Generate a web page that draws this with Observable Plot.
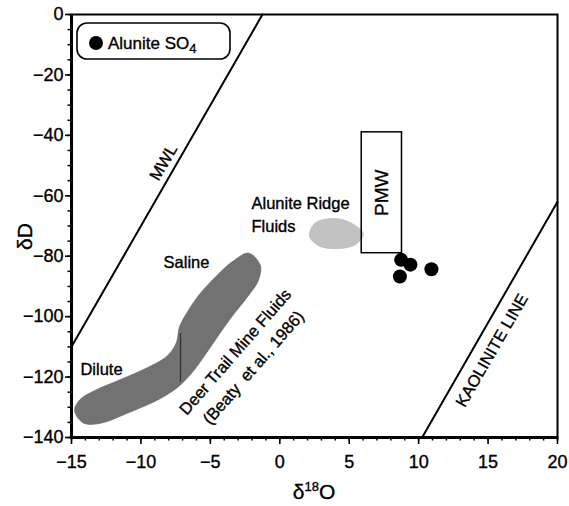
<!DOCTYPE html>
<html><head><meta charset="utf-8">
<script src="https://cdn.jsdelivr.net/npm/d3@7"></script>
<script src="https://cdn.jsdelivr.net/npm/@observablehq/plot@0.6"></script>
<style>body{margin:0;background:#fff} svg text{stroke:black;stroke-width:0.35px}</style>
</head><body><div id="chart"></div>
<script>
const xMajorTicks = [-15, -10, -5, 0, 5, 10, 15, 20];
const yMajorTicks = [0, -20, -40, -60, -80, -100, -120, -140];
const xMinorTicks = d3.range(-15, 20.5, 1);
const yMinorTicks = d3.range(-140, 0.5, 5);

// Alunite SO4 samples
const aluniteX = [8.74, 9.41, 8.65, 10.92];
const aluniteY = [-81.2, -82.8, -86.7, -84.3];
const alunite = aluniteX.map((x, i) => ({x, y: aluniteY[i]}));

// Reference lines
const mwl = [{x: -15, y: -110}, {x: -1.25, y: 0}];
const kaolinite = [{x: 10.25, y: -140}, {x: 20, y: -62}];

// Primary magmatic water box
const pmw = [{x1: 5.9, x2: 8.8, y1: -79, y2: -39}];

// Alunite Ridge fluids outline
const ridge = [
  {x: 6.02, y: -72.5}, {x: 5.09, y: -68.9}, {x: 4.0, y: -67.5}, {x: 2.57, y: -68.9},
  {x: 2.13, y: -73.2}, {x: 2.78, y: -76.5}, {x: 4.08, y: -77.5}, {x: 5.45, y: -76.2}
];

// Deer Trail Mine fluids outline
const deerTrail = [
  {x: -2.23, y: -79.0}, {x: -1.40, y: -83.1}, {x: -1.55, y: -88.1}, {x: -2.30, y: -93.3},
  {x: -3.25, y: -98.8}, {x: -4.22, y: -104.9}, {x: -5.18, y: -111.4}, {x: -6.15, y: -117.6},
  {x: -7.15, y: -122.6}, {x: -8.59, y: -127.1}, {x: -10.99, y: -132.0}, {x: -12.91, y: -135.3},
  {x: -14.15, y: -135.2}, {x: -14.78, y: -131.1}, {x: -14.40, y: -127.5}, {x: -13.39, y: -124.6},
  {x: -11.47, y: -120.8}, {x: -9.55, y: -116.9}, {x: -8.11, y: -113.0}, {x: -7.45, y: -108.6},
  {x: -7.22, y: -103.3}, {x: -6.62, y: -98.2}, {x: -5.78, y: -92.6}, {x: -4.58, y: -86.6},
  {x: -3.36, y: -81.6}
];
const divider = [{x: -7.15, y1: -105.6, y2: -121.7}];

// Annotations
const centeredLabels = [
  {x: -8.37, y: -49.0, text: "MWL", rotate: -60},
  {x: 15.28, y: -111.2, text: "KAOLINITE LINE", rotate: -60},
  {x: -6.72, y: -82.3, text: "Saline", rotate: 0},
  {x: -12.84, y: -117.5, text: "Dilute", rotate: 0},
  {x: -3.19, y: -111.7, text: "Deer Trail Mine Fluids", rotate: -49},
  {x: -1.89, y: -116.9, text: "(Beaty  et al., 1986)", rotate: -49}
];
const leftLabels = [
  {x: -2.04, y: -62.6, text: "Alunite Ridge"},
  {x: -2.04, y: -70.2, text: "Fluids"}
];
const legendLabel = "Alunite SO";
const legendSub = "4";

const FONT = "Liberation Sans, Arial, Helvetica, sans-serif";

function legendMark(index, scales, values, dim) {
  const g = d3.create("svg:g").attr("font-family", FONT).attr("text-anchor", "start");
  const x0 = dim.marginLeft + 6, y0 = dim.marginTop + 9;
  g.append("rect").attr("x", x0).attr("y", y0).attr("width", 153).attr("height", 36)
    .attr("rx", 10).attr("fill", "white").attr("stroke", "black").attr("stroke-width", 1.6);
  g.append("circle").attr("cx", x0 + 19).attr("cy", y0 + 20).attr("r", 7).attr("fill", "black");
  const t = g.append("text").attr("x", x0 + 31).attr("y", y0 + 26).attr("font-size", 17)
    .attr("text-anchor", "start").attr("fill", "black");
  t.append("tspan").text(legendLabel);
  t.append("tspan").attr("dy", 4).attr("font-size", 13).text(legendSub);
  return g.node();
}

function titlesMark(index, scales, values, dim) {
  const g = d3.create("svg:g").attr("font-family", FONT).attr("fill", "black");
  const cx = dim.marginLeft + (dim.width - dim.marginLeft - dim.marginRight) / 2;
  const t = g.append("text").attr("x", cx).attr("y", dim.height - 7)
    .attr("text-anchor", "middle").attr("font-size", 21);
  t.append("tspan").text("δ");
  t.append("tspan").attr("font-size", 13).attr("dy", -8).text("18");
  t.append("tspan").attr("dy", 8).text("O");
  const cy = dim.marginTop + (dim.height - dim.marginTop - dim.marginBottom) / 2 + 11;
  g.append("text").attr("transform", `translate(25,${cy}) rotate(-90)`)
    .attr("text-anchor", "middle").attr("dy", "0.35em").attr("font-size", 21).text("δD");
  return g.node();
}

const chart = Plot.plot({
  width: 569,
  height: 506,
  marginLeft: 71,
  marginRight: 12,
  marginTop: 14,
  marginBottom: 69,
  style: {fontFamily: FONT, background: "white", overflow: "visible"},
  x: {domain: [-15, 20]},
  y: {domain: [-140, 0]},
  marks: [
    Plot.line(deerTrail, {x: "x", y: "y", curve: "catmull-rom-closed", fill: "#727272", stroke: "#606060", strokeWidth: 0.6}),
    Plot.ruleX(divider, {x: "x", y1: "y1", y2: "y2", stroke: "#333", strokeWidth: 1.3}),
    Plot.line(ridge, {x: "x", y: "y", curve: "catmull-rom-closed", fill: "#c2c2c2", stroke: "#b0b0b0", strokeWidth: 0.5}),
    Plot.rect(pmw, {x1: "x1", x2: "x2", y1: "y1", y2: "y2", fill: "none", stroke: "black", strokeWidth: 1.5}),
    Plot.text(["PMW"], {x: (pmw[0].x1 + pmw[0].x2) / 2, y: (pmw[0].y1 + pmw[0].y2) / 2, text: d => d, rotate: -90, fontSize: 19, fill: "black", stroke: "black", strokeWidth: 0.5}),
    Plot.line(mwl, {x: "x", y: "y", stroke: "black", strokeWidth: 2}),
    Plot.line(kaolinite, {x: "x", y: "y", stroke: "black", strokeWidth: 2}),
    Plot.dot(alunite, {x: "x", y: "y", r: 7, fill: "black"}),
    Plot.text(centeredLabels, {x: "x", y: "y", text: "text", rotate: "rotate", textAnchor: "middle", fontSize: 16.5, fill: "black"}),
    Plot.text(leftLabels, {x: "x", y: "y", text: "text", textAnchor: "start", fontSize: 16.5, fill: "black"}),
    Plot.axisX({ticks: xMinorTicks, tickSize: 3.5, text: null, strokeWidth: 1.5}),
    Plot.axisX({ticks: xMajorTicks, tickSize: 7, tickPadding: 11, fontSize: 18, label: null, strokeWidth: 1.6}),
    Plot.axisY({ticks: yMinorTicks, tickSize: 3.5, text: null, strokeWidth: 1.5}),
    Plot.axisY({ticks: yMajorTicks, tickSize: 6, tickPadding: 2, fontSize: 18, label: null, strokeWidth: 1.6}),
    Plot.frame({stroke: "black", strokeWidth: 2}),
    Plot.ruleY([-140], {stroke: "black", strokeWidth: 3}),
    Plot.ruleX([-15], {stroke: "black", strokeWidth: 3}),
    legendMark,
    titlesMark
  ]
});
document.getElementById("chart").appendChild(chart);
</script>
</body></html>
